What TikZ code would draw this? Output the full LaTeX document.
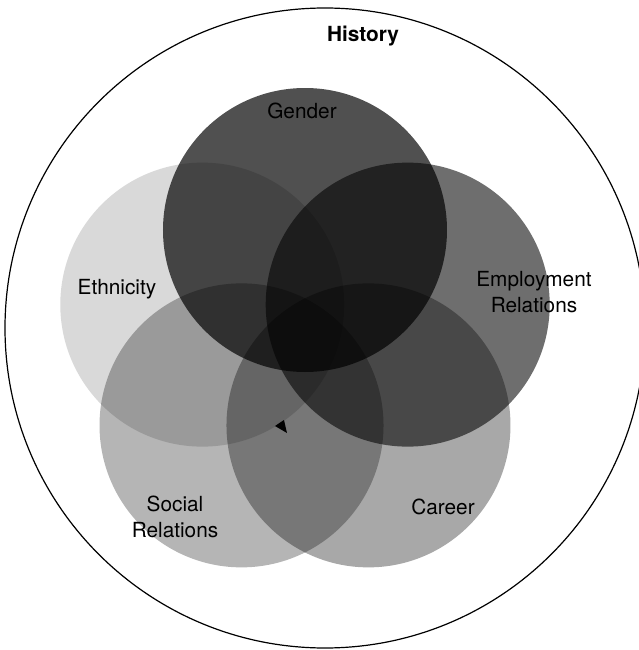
\documentclass[tikz,border=0pt]{standalone}
\usepackage{fontspec}
\setmainfont{TeX Gyre Heros}
\usepackage{xcolor}
\usepackage{tikz}
\usetikzlibrary{calc, positioning}

\definecolor{cGender}{HTML}{505050}
\definecolor{cEthnic}{HTML}{D9D9D9}
\definecolor{cEmploy}{HTML}{6E6E6E}
\definecolor{cSocial}{HTML}{B5B5B5}
\definecolor{cCareer}{HTML}{A8A8A8}

\tikzset{
    lbl/.style={font=\fontsize{10.4}{13}\selectfont, align=center, inner sep=0pt},
}

\begin{document}
\begin{tikzpicture}[>=latex, x=0.5pt, y=0.5pt]
    \useasboundingbox (0,0) rectangle (639,650);

    % Vòng tròn lớn
    \draw[line width=0.6pt] (325,322) circle [radius=320];
    \node[lbl, font=\fontsize{10.4}{13}\selectfont\bfseries] (history) at (363,614) {History};

    % Năm vòng tròn chồng nhau
    \coordinate (O) at (305,312);
    \begin{scope}[blend group=multiply]
        \fill[cGender] ($(O)+(90:108)$) circle [radius=142];
        \fill[cEthnic] ($(O)+(162:108)$) circle [radius=142];
        \fill[cSocial] ($(O)+(234:108)$) circle [radius=142];
        \fill[cCareer] ($(O)+(306:108)$) circle [radius=142];
        \fill[cEmploy] ($(O)+(18:108)$) circle [radius=142];
    \end{scope}

    % Nhãn
    \node[lbl] (gender) at (302,539) {Gender};
    \node[lbl] (ethnic) at (117,361) {Ethnicity};
    \node[lbl] (employ) at (534,358) {Employment\\Relations};
    \node[lbl] (social) at (175,133) {Social\\Relations};
    \node[lbl] (career) at (443,143) {Career};

    % Mũi tên nhỏ
    \fill (275,224) -- (284,230) -- (287,217) -- cycle;
\end{tikzpicture}
\end{document}
